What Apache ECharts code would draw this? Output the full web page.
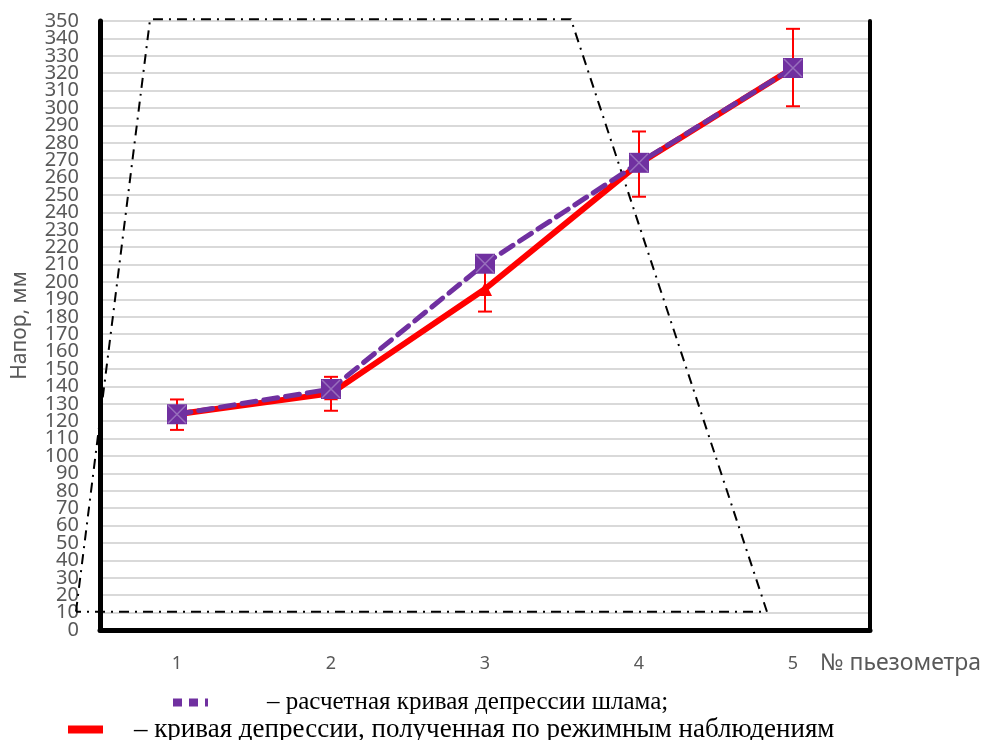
<!DOCTYPE html>
<html>
<head>
<meta charset="utf-8">
<script src="https://cdn.jsdelivr.net/npm/echarts@6/dist/echarts.min.js"></script>
<style>html,body{margin:0;padding:0;background:#fff}#c{width:987px;height:740px}</style>
</head>
<body>
<div id="c"></div>
<script>
// ---- data ----
const categories = ['1', '2', '3', '4', '5'];
const calcValues = [124, 138.5, 210.5, 268.5, 323];          // расчетная кривая
const observedValues = [124, 136, 196, 268, 323];            // режимные наблюдения
const errLow = [115, 126, 183, 249, 301];
const errHigh = [132.5, 145.5, 209, 286.5, 345.5];
const yMin = 0, yMax = 350, yStep = 10;
// outline of the dam section (x in category units, 1..5 = piezometers)
const outlineX = [0.344, 0.825, 3.558, 4.831, 0.344];
const outlineY = [10.5, 351, 351, 10.5, 10.5];

const calcName = 'расчетная кривая депрессии шлама';
const obsName = 'кривая депрессии, полученная по режимным наблюдениям';

const chart = echarts.init(document.getElementById('c'));
const grey = '#595959';
const purple = '#7030A0';
const yLabelStyle = { color: grey, fontFamily: 'Noto Sans', fontSize: 20, margin: 21 };

chart.setOption({
  animation: false,
  backgroundColor: '#fff',
  grid: { left: 100, right: 117, top: 21, bottom: 110, show: true, borderColor: '#000', borderWidth: 2, containLabel: false },
  legend: [
    {
      left: 168, top: 685, itemWidth: 35, itemHeight: 8, itemGap: 0,
      data: [{ name: calcName, icon: 'path://M0,0h9v8h-9z M16,0h9v8h-9z M32,0h3v8h-3z' }],
      formatter: n => '– ' + n + ';',
      textStyle: { fontFamily: 'Liberation Serif', fontSize: 25, color: '#000', padding: [0, 0, 0, 54] }
    },
    {
      left: 63, top: 711, itemWidth: 35, itemHeight: 8, itemGap: 0,
      data: [{ name: obsName, icon: 'rect' }],
      formatter: n => '– ' + n,
      textStyle: { fontFamily: 'Liberation Serif', fontSize: 27, color: '#000', padding: [0, 0, 0, 26] }
    }
  ],
  xAxis: [
    {
      type: 'category', data: categories, boundaryGap: true,
      axisLine: { show: true, lineStyle: { color: '#000', width: 5 } },
      axisTick: { show: false },
      axisLabel: { color: grey, fontFamily: 'Noto Sans', fontSize: 18, margin: 25 },
      name: '№ пьезометра', nameLocation: 'end', nameGap: -50,
      nameTextStyle: { color: grey, fontFamily: 'Noto Sans', fontSize: 23, verticalAlign: 'top', padding: [22, 0, 0, 0] }
    },
    { type: 'value', min: 0.5, max: 5.5, show: false }
  ],
  yAxis: [
    {
      type: 'value', min: yMin, max: yMax, interval: yStep,
      axisLine: { show: true, lineStyle: { color: '#000', width: 5 } },
      axisTick: { show: false },
      axisLabel: Object.assign({ showMinLabel: false, showMaxLabel: false }, yLabelStyle),
      splitLine: { lineStyle: { color: '#d9d9d9', width: 2 } },
      name: 'Напор, мм', nameLocation: 'middle', nameGap: 69,
      nameTextStyle: { color: grey, fontFamily: 'Noto Sans', fontSize: 21 }
    },
    {
      // shows only the end labels (0 and 350)
      type: 'value', min: yMin, max: yMax, interval: yMax - yMin, position: 'left',
      axisLine: { show: false }, axisTick: { show: false }, splitLine: { show: false },
      axisLabel: Object.assign({ showMinLabel: true, showMaxLabel: true }, yLabelStyle)
    },
    {
      type: 'value', min: yMin, max: yMax, interval: yStep, position: 'right',
      axisLine: { show: true, lineStyle: { color: '#000', width: 4 } },
      axisTick: { show: false }, axisLabel: { show: false }, splitLine: { show: false }
    }
  ],
  series: [
    {
      name: 'outline', type: 'custom', xAxisIndex: 1, yAxisIndex: 0, clip: false, silent: true, z: 1,
      data: [[outlineX[0], outlineY[0]]],
      renderItem: (params, api) => {
        const pts = outlineX.map((x, i) => api.coord([x, outlineY[i]]));
        return {
          type: 'polyline', shape: { points: pts },
          style: { stroke: '#000', lineWidth: 2, fill: null, lineDash: [10, 6, 2, 6] }
        };
      }
    },
    {
      name: obsName, type: 'line', data: observedValues, z: 3,
      symbol: 'triangle', symbolSize: 14,
      itemStyle: { color: '#ff0000' },
      lineStyle: { color: '#ff0000', width: 6 }
    },
    {
      name: 'err', type: 'custom', z: 4, silent: true,
      data: categories.map((c, i) => [i, errLow[i], errHigh[i]]),
      renderItem: (params, api) => {
        const lo = api.coord([api.value(0), api.value(1)]);
        const hi = api.coord([api.value(0), api.value(2)]);
        const w = 7;
        const st = { stroke: '#ff0000', lineWidth: 2 };
        return {
          type: 'group', children: [
            { type: 'line', shape: { x1: lo[0], y1: lo[1], x2: hi[0], y2: hi[1] }, style: st },
            { type: 'line', shape: { x1: lo[0] - w, y1: lo[1], x2: lo[0] + w, y2: lo[1] }, style: st },
            { type: 'line', shape: { x1: hi[0] - w, y1: hi[1], x2: hi[0] + w, y2: hi[1] }, style: st }
          ]
        };
      }
    },
    {
      name: calcName, type: 'line', data: calcValues, z: 5,
      symbol: 'rect', symbolSize: 20,
      itemStyle: { color: purple },
      lineStyle: { color: purple, width: 5, type: [14, 8], cap: 'round' }
    },
    {
      name: 'cross', type: 'scatter', data: calcValues, z: 6, silent: true,
      symbol: 'path://M0,0L20,20M20,0L0,20', symbolSize: 18,
      itemStyle: { color: 'rgba(0,0,0,0)', borderColor: '#a27fc4', borderWidth: 1.5 }
    }
  ]
});
</script>
</body>
</html>
